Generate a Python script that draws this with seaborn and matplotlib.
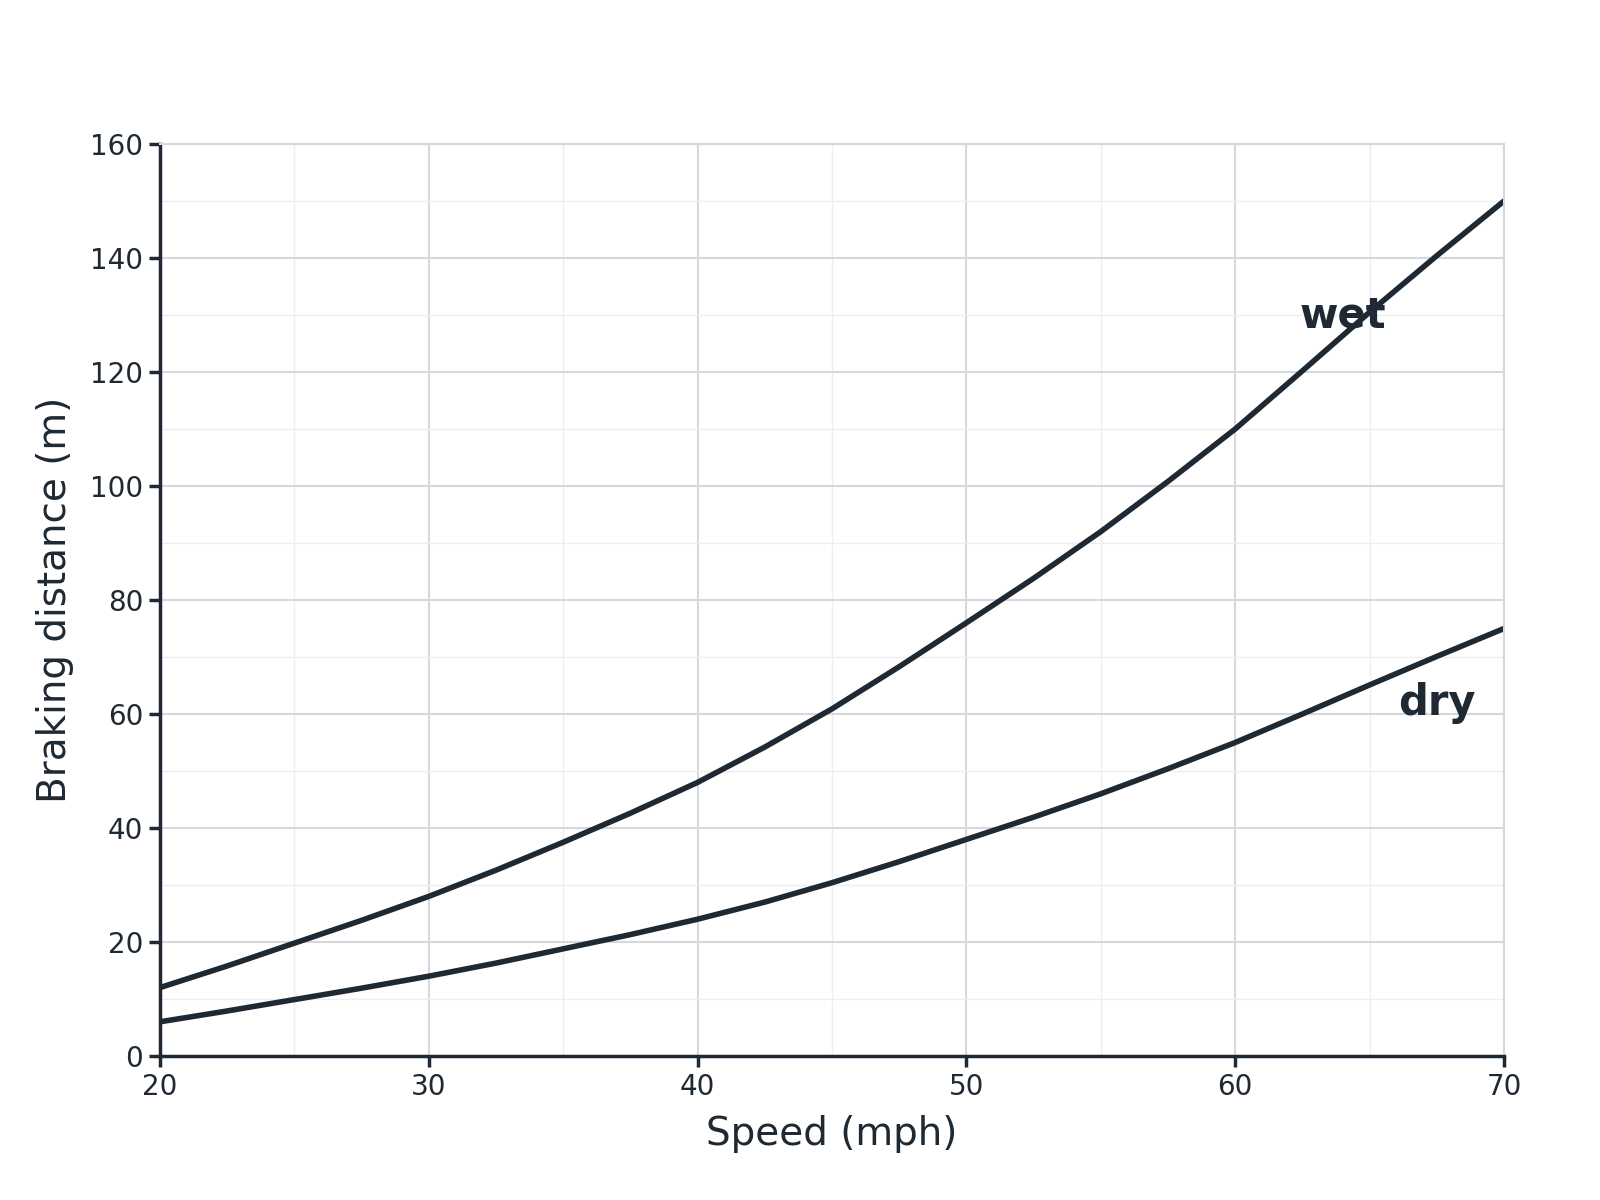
import seaborn as sns
import matplotlib.pyplot as plt
import pandas as pd
from matplotlib.ticker import MultipleLocator

# braking distance, every 2.5 mph
speed_mph = [20, 22.5, 25, 27.5, 30, 32.5, 35, 37.5, 40, 42.5, 45,
             47.5, 50, 52.5, 55, 57.5, 60, 62.5, 65, 67.5, 70]
dry_m = [6, 7.9, 9.9, 11.9, 14, 16.3, 18.8, 21.3, 24, 27.0, 30.4,
         34.1, 38, 41.9, 46, 50.4, 55, 60.0, 65.1, 70.1, 75]
wet_m = [12, 15.8, 19.8, 23.8, 28, 32.6, 37.5, 42.6, 48, 54.2, 60.9,
         68.3, 76, 83.8, 92, 100.8, 110, 120.2, 130.5, 140.4, 150]

ink = "#1f2933"
grid_major = "#d5d8de"
grid_minor = "#eceef1"

sns.set_theme(style="white")
plt.rcParams['font.family'] = ['DejaVu Sans']

df = pd.DataFrame({
    "speed": speed_mph * 2,
    "dist": dry_m + wet_m,
    "road": ["dry"] * len(dry_m) + ["wet"] * len(wet_m),
})

fig, ax = plt.subplots(figsize=(16, 12), dpi=100)
fig.subplots_adjust(left=0.1, right=0.94, top=0.88, bottom=0.12)

sns.lineplot(data=df, x="speed", y="dist", units="road", estimator=None,
             color=ink, linewidth=4, ax=ax, legend=False)

ax.set_xlim(20, 70)
ax.set_ylim(0, 160)
ax.xaxis.set_major_locator(MultipleLocator(10))
ax.xaxis.set_minor_locator(MultipleLocator(5))
ax.yaxis.set_major_locator(MultipleLocator(20))
ax.yaxis.set_minor_locator(MultipleLocator(10))
ax.grid(which="major", color=grid_major, linewidth=1.5)
ax.grid(which="minor", color=grid_minor, linewidth=1.0)
ax.set_axisbelow(True)

for side in ["left", "bottom"]:
    ax.spines[side].set_color(ink)
    ax.spines[side].set_linewidth(2.5)
for side in ["top", "right"]:
    ax.spines[side].set_color(grid_major)
    ax.spines[side].set_linewidth(1.5)

ax.tick_params(which="major", direction="out", length=8, width=2.5,
               color=ink, labelsize=20, labelcolor=ink, pad=4,
               left=True, bottom=True)
ax.tick_params(which="minor", length=0)

ax.set_xlabel("Speed (mph)", fontsize=28, color=ink, labelpad=10)
ax.set_ylabel("Braking distance (m)", fontsize=28, color=ink, labelpad=12)

ax.text(64, 130, "wet", fontsize=30, fontweight="bold", color=ink,
        ha="center", va="center")
ax.text(67.5, 62, "dry", fontsize=30, fontweight="bold", color=ink,
        ha="center", va="center")

fig.savefig("out.png")
